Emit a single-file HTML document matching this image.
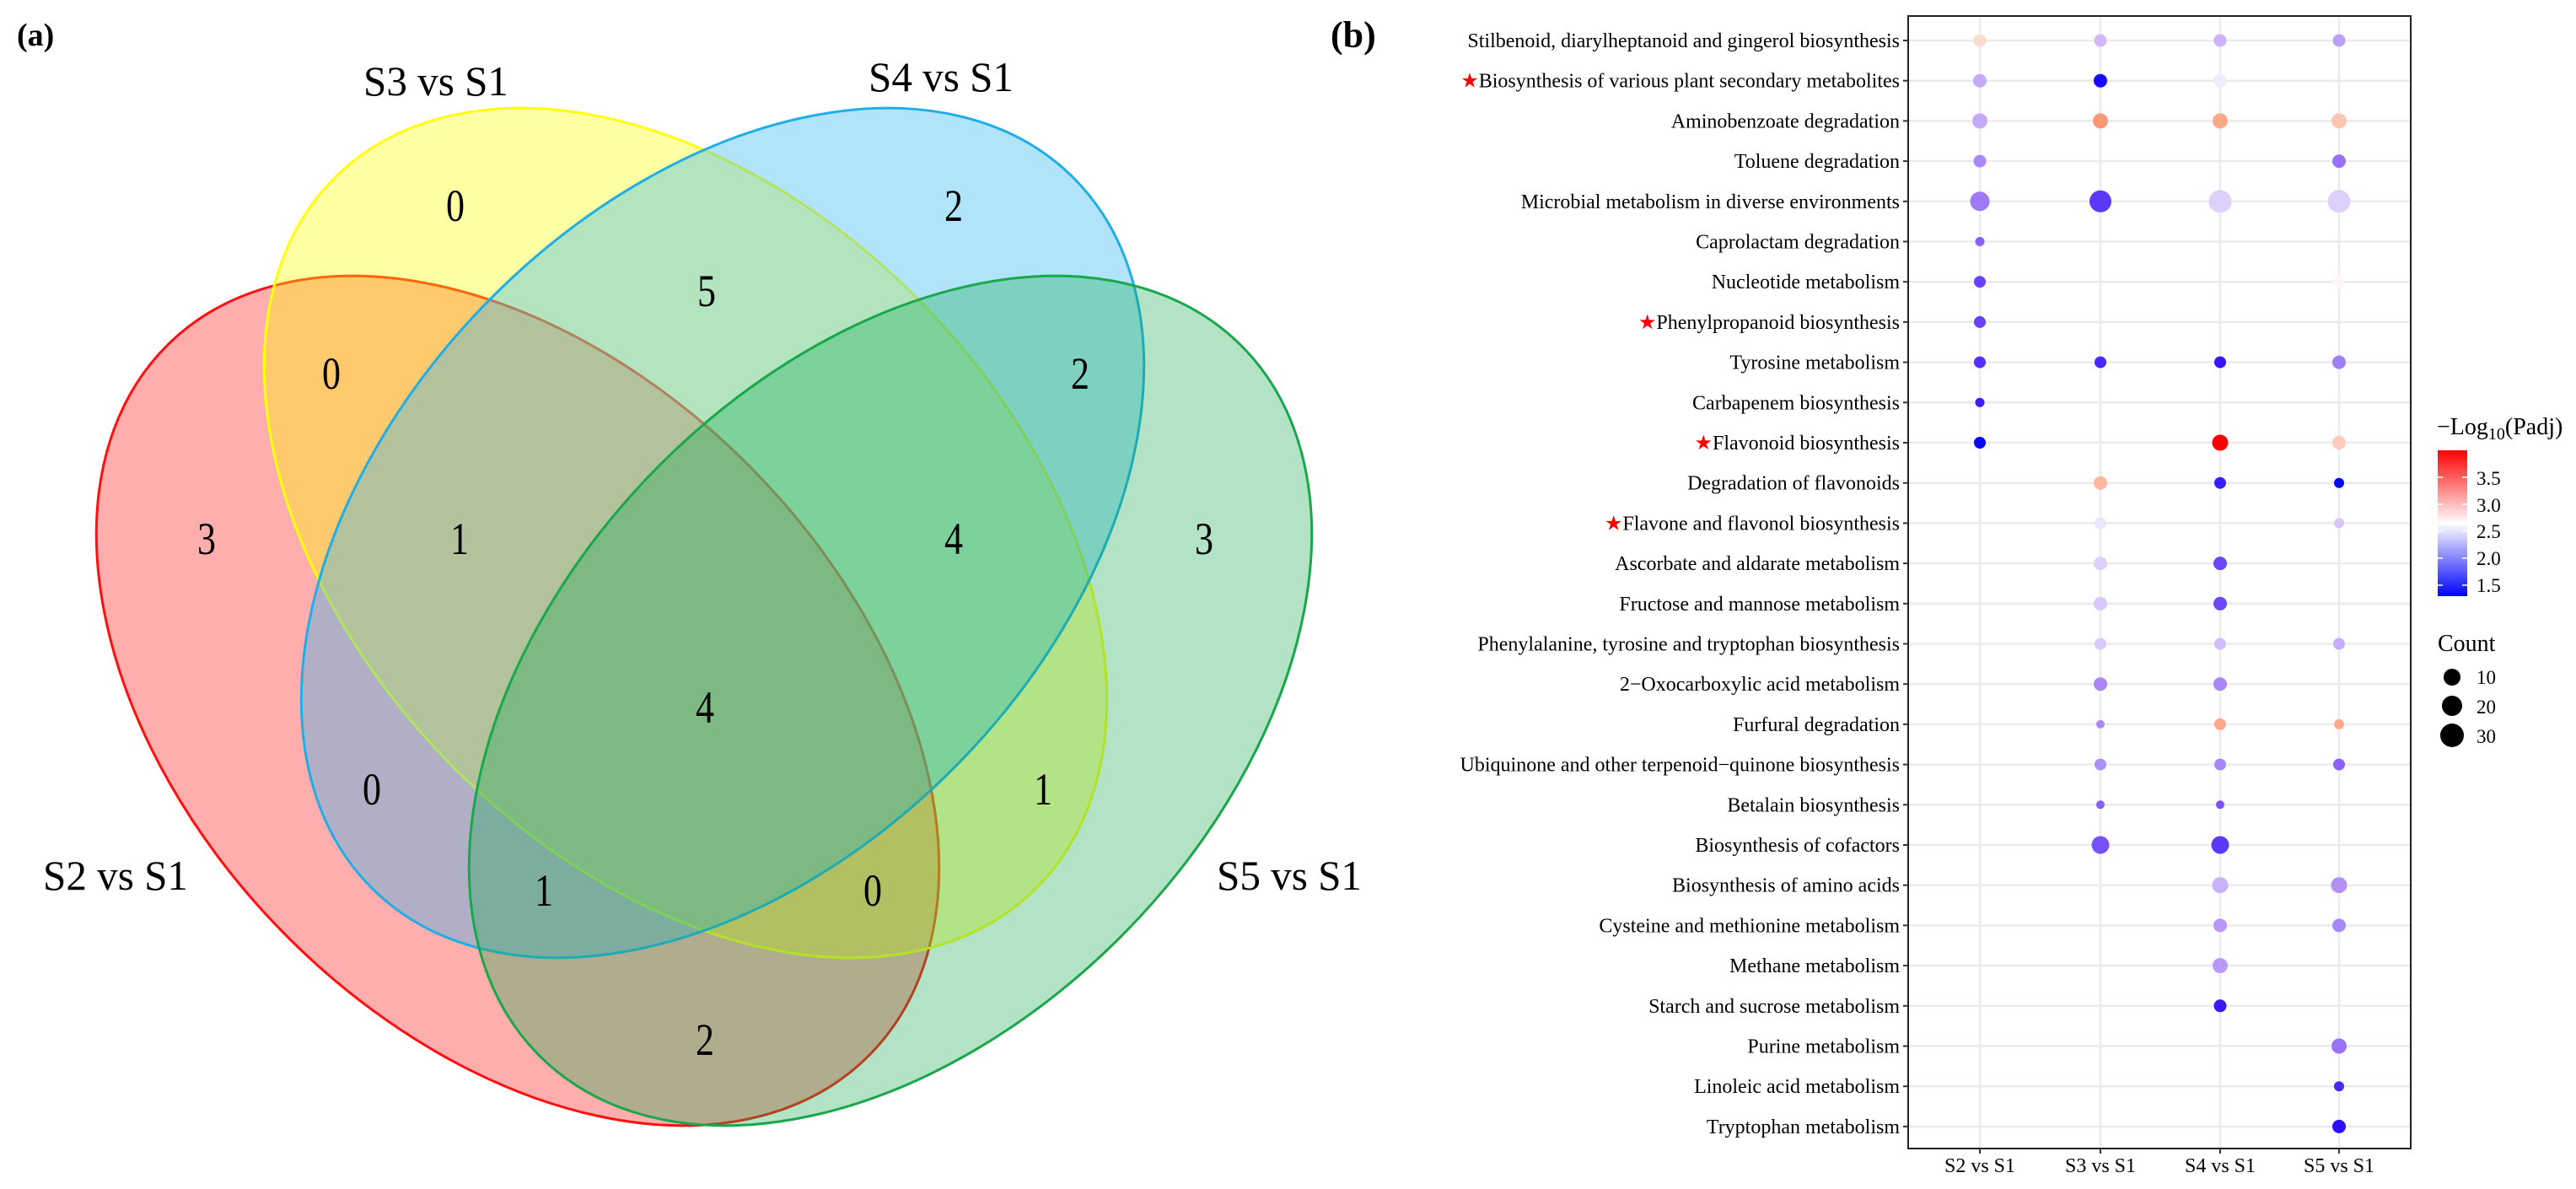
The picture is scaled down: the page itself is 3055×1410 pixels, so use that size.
<!DOCTYPE html>
<html><head><meta charset="utf-8"><style>
html,body{margin:0;padding:0;background:#fff;width:3055px;height:1410px;overflow:hidden}
svg{display:block}
text{font-family:"Liberation Serif",serif;fill:#000}
</style></head><body>
<svg width="3055" height="1410" viewBox="0 0 3055 1410" xmlns="http://www.w3.org/2000/svg">
<!-- Venn -->
<text x="20" y="54" font-size="38" font-weight="bold">(a)</text>
<g stroke-width="3">
<ellipse cx="614" cy="831" rx="592" ry="391" transform="rotate(45.6 614 831)" fill="rgba(255,0,0,0.32)" stroke="#ff1010"/>
<ellipse cx="813" cy="632" rx="592" ry="391" transform="rotate(45.6 813 632)" fill="rgba(255,255,0,0.36)" stroke="#ffff10"/>
<ellipse cx="857" cy="632" rx="592" ry="391" transform="rotate(-45.6 857 632)" fill="rgba(40,180,240,0.36)" stroke="#20aee6"/>
<ellipse cx="1056" cy="831" rx="592" ry="391" transform="rotate(-45.6 1056 831)" fill="rgba(20,170,80,0.33)" stroke="#18a84a"/>
</g>
<g font-size="54" text-anchor="middle">
<text x="540" y="262" textLength="22" lengthAdjust="spacingAndGlyphs">0</text>
<text x="1131" y="262" textLength="22" lengthAdjust="spacingAndGlyphs">2</text>
<text x="838" y="363" textLength="22" lengthAdjust="spacingAndGlyphs">5</text>
<text x="393" y="461" textLength="22" lengthAdjust="spacingAndGlyphs">0</text>
<text x="1281" y="461" textLength="22" lengthAdjust="spacingAndGlyphs">2</text>
<text x="245" y="657" textLength="22" lengthAdjust="spacingAndGlyphs">3</text>
<text x="545" y="657" textLength="22" lengthAdjust="spacingAndGlyphs">1</text>
<text x="1131" y="657" textLength="22" lengthAdjust="spacingAndGlyphs">4</text>
<text x="1428" y="657" textLength="22" lengthAdjust="spacingAndGlyphs">3</text>
<text x="836" y="857" textLength="22" lengthAdjust="spacingAndGlyphs">4</text>
<text x="441" y="954" textLength="22" lengthAdjust="spacingAndGlyphs">0</text>
<text x="1237" y="954" textLength="22" lengthAdjust="spacingAndGlyphs">1</text>
<text x="645" y="1074" textLength="22" lengthAdjust="spacingAndGlyphs">1</text>
<text x="1035" y="1074" textLength="22" lengthAdjust="spacingAndGlyphs">0</text>
<text x="836" y="1251" textLength="22" lengthAdjust="spacingAndGlyphs">2</text>
</g>
<g font-size="50">
<text x="431" y="113" textLength="172" lengthAdjust="spacingAndGlyphs">S3 vs S1</text>
<text x="1030" y="108" textLength="172" lengthAdjust="spacingAndGlyphs">S4 vs S1</text>
<text x="51" y="1055" textLength="172" lengthAdjust="spacingAndGlyphs">S2 vs S1</text>
<text x="1443" y="1055" textLength="172" lengthAdjust="spacingAndGlyphs">S5 vs S1</text>
</g>
<!-- Dot plot -->
<text x="1578" y="56" font-size="44" font-weight="bold">(b)</text>
<g id="grid" stroke="#ebebeb" stroke-width="2.5">
<line x1="2348" y1="19" x2="2348" y2="1362"/><line x1="2491" y1="19" x2="2491" y2="1362"/>
<line x1="2633" y1="19" x2="2633" y2="1362"/><line x1="2774" y1="19" x2="2774" y2="1362"/>
</g>
<g id="rows"></g>
<rect x="2263" y="19" width="596" height="1343" fill="none" stroke="#222" stroke-width="2"/>
<g stroke="#333" stroke-width="2">
<line x1="2348" y1="1362" x2="2348" y2="1368"/><line x1="2491" y1="1362" x2="2491" y2="1368"/>
<line x1="2633" y1="1362" x2="2633" y2="1368"/><line x1="2774" y1="1362" x2="2774" y2="1368"/>
</g>
<g font-size="24" text-anchor="middle">
<text x="2348" y="1390">S2 vs S1</text><text x="2491" y="1390">S3 vs S1</text>
<text x="2633" y="1390">S4 vs S1</text><text x="2774" y="1390">S5 vs S1</text>
</g>
<!-- legend -->
<defs><linearGradient id="cb" x1="0" y1="1" x2="0" y2="0">
<stop offset="0" stop-color="#0000ff"/><stop offset="0.5" stop-color="#ffffff"/><stop offset="1" stop-color="#ff0000"/>
</linearGradient></defs>
<text x="2890" y="515" font-size="28">−Log<tspan font-size="20" dy="6">10</tspan><tspan dy="-6">(Padj)</tspan></text>
<rect x="2891" y="534" width="35" height="173" fill="url(#cb)"/>
<g stroke="#fff" stroke-width="1.5">
<line x1="2891" y1="566" x2="2897" y2="566"/><line x1="2920" y1="566" x2="2926" y2="566"/>
<line x1="2891" y1="598" x2="2897" y2="598"/><line x1="2920" y1="598" x2="2926" y2="598"/>
<line x1="2891" y1="630" x2="2897" y2="630"/><line x1="2920" y1="630" x2="2926" y2="630"/>
<line x1="2891" y1="662" x2="2897" y2="662"/><line x1="2920" y1="662" x2="2926" y2="662"/>
<line x1="2891" y1="694" x2="2897" y2="694"/><line x1="2920" y1="694" x2="2926" y2="694"/>
</g>
<g font-size="23">
<text x="2937" y="575">3.5</text><text x="2937" y="607">3.0</text><text x="2937" y="638">2.5</text>
<text x="2937" y="670">2.0</text><text x="2937" y="702">1.5</text>
</g>
<text x="2891" y="772" font-size="28">Count</text>
<circle cx="2908" cy="803" r="10" fill="#000"/><circle cx="2908" cy="837" r="12" fill="#000"/><circle cx="2908" cy="872" r="14" fill="#000"/>
<g font-size="23"><text x="2937" y="811">10</text><text x="2937" y="846">20</text><text x="2937" y="881">30</text></g>
</svg>
<script>
var L=[
["Stilbenoid, diarylheptanoid and gingerol biosynthesis",0,[[0,"#fddbd0",7.5],[1,"#d0b8fb",7.5],[2,"#cbb0fa",7.5],[3,"#b9a0f8",7.5]]],
["Biosynthesis of various plant secondary metabolites",1,[[0,"#c5aafa",8],[1,"#1a0aff",8],[2,"#f0ecfc",8]]],
["Aminobenzoate degradation",0,[[0,"#c4aaf8",9],[1,"#fc9878",9],[2,"#fba888",9],[3,"#fdc4b0",9]]],
["Toluene degradation",0,[[0,"#a888f6",7.5],[3,"#9a70f6",8]]],
["Microbial metabolism in diverse environments",0,[[0,"#a07af6",11.5],[1,"#5c38fa",13],[2,"#ddd0fb",13.5],[3,"#ddd0fb",13.5]]],
["Caprolactam degradation",0,[[0,"#8a60f6",5.5]]],
["Nucleotide metabolism",0,[[0,"#6a40f8",7],[3,"#fdf6f4",7]]],
["Phenylpropanoid biosynthesis",1,[[0,"#6a40f8",7]]],
["Tyrosine metabolism",0,[[0,"#5530fa",7],[1,"#4a28fb",7],[2,"#3a15fb",7],[3,"#a07ef6",8]]],
["Carbapenem biosynthesis",0,[[0,"#3a20fb",5.5]]],
["Flavonoid biosynthesis",1,[[0,"#0808ff",7],[2,"#ff0000",9.5],[3,"#fbcbb8",8]]],
["Degradation of flavonoids",0,[[1,"#fcb8a0",8],[2,"#3a20fb",7],[3,"#0808ff",6]]],
["Flavone and flavonol biosynthesis",1,[[1,"#ece4fd",7],[3,"#d8c6fa",6]]],
["Ascorbate and aldarate metabolism",0,[[1,"#ddd0fb",8],[2,"#6a48f8",8]]],
["Fructose and mannose metabolism",0,[[1,"#d8c8fb",8],[2,"#6a48f8",8]]],
["Phenylalanine, tyrosine and tryptophan biosynthesis",0,[[1,"#dacbfa",7],[2,"#d0c0fa",7],[3,"#c5aefa",7]]],
["2−Oxocarboxylic acid metabolism",0,[[1,"#a988f6",8],[2,"#a888f6",8]]],
["Furfural degradation",0,[[1,"#a888f6",5],[2,"#fbaa90",7],[3,"#fcaa88",6]]],
["Ubiquinone and other terpenoid−quinone biosynthesis",0,[[1,"#ad8ff6",7],[2,"#a588f6",7],[3,"#8a60f6",7]]],
["Betalain biosynthesis",0,[[1,"#8a60f6",5],[2,"#7a50f8",5]]],
["Biosynthesis of cofactors",0,[[1,"#7a50f8",10.5],[2,"#5e38fa",10.5]]],
["Biosynthesis of amino acids",0,[[2,"#cbb0fa",9.5],[3,"#b290f6",9.5]]],
["Cysteine and methionine metabolism",0,[[2,"#b898f6",8],[3,"#a888f6",8]]],
["Methane metabolism",0,[[2,"#b89af6",9]]],
["Starch and sucrose metabolism",0,[[2,"#3a18fc",7.5]]],
["Purine metabolism",0,[[3,"#9a72f6",9]]],
["Linoleic acid metabolism",0,[[3,"#4828fb",6]]],
["Tryptophan metabolism",0,[[3,"#2a10fc",8]]]
];
var X=[2348,2491,2633,2774],NS="http://www.w3.org/2000/svg";
var svg=document.querySelector("svg"),grid=document.getElementById("grid"),rows=document.getElementById("rows");
function el(n,a,p){var e=document.createElementNS(NS,n);for(var k in a)e.setAttribute(k,a[k]);(p||svg).appendChild(e);return e;}
L.forEach(function(r,i){
 var y=48+i*47.7;
 el("line",{x1:2263,y1:y,x2:2859,y2:y},grid);
 el("line",{x1:2257,y1:y,x2:2263,y2:y,stroke:"#333","stroke-width":2});
 var t=el("text",{x:2253,y:y+8,"font-size":24,"text-anchor":"end"});
 if(r[1]){var s=document.createElementNS(NS,"tspan");s.setAttribute("style","fill:#ff0000");s.textContent="★";t.appendChild(s);}
 t.appendChild(document.createTextNode(r[0]));
 r[2].forEach(function(d){el("circle",{cx:X[d[0]],cy:y,r:d[2],fill:d[1]},rows);});
});
</script>
</body></html>
